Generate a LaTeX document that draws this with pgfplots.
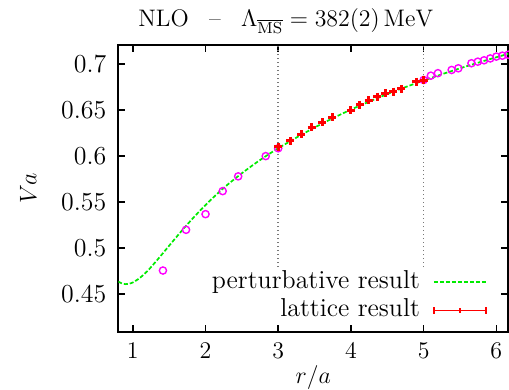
\documentclass[border=0pt]{standalone}
\usepackage{pgfplots}
\pgfplotsset{compat=1.18}
\definecolor{pgreen}{RGB}{0,235,0}
\definecolor{pmag}{RGB}{255,0,255}
\definecolor{pred}{RGB}{255,0,0}
\definecolor{dgray}{RGB}{120,120,120}
\begin{document}
\fontsize{13}{15}\selectfont
\begin{tikzpicture}
\useasboundingbox (-59.15bp,-29.15bp) rectangle (195.35bp,165.85bp);
\begin{axis}[
  at={(0,0)}, anchor=south west,
  scale only axis, width=195bp, height=143.35bp,
  xmin=0.8, xmax=6.1644, ymin=0.4094, ymax=0.7206,
  xtick={1,2,3,4,5,6},
  ytick={0.45,0.5,0.55,0.6,0.65,0.7},
  yticklabels={0.45,0.5,0.55,0.6,0.65,0.7},
  tick pos=both, tick align=inside,
  major tick length=3.5bp,
  axis line style={line width=1bp},
  every tick/.style={line width=0.8bp, black},
  yticklabel style={xshift=-1.5bp},
  xticklabel style={yshift=-1.2bp},
  xlabel={$r/a$}, ylabel={$Va$},
  xlabel style={at={(axis description cs:0.5,-0.1604)}, anchor=center},
  ylabel style={at={(axis description cs:-0.2308,0.5)}, anchor=center},
  title={NLO\hspace{0.85em}--\hspace{0.85em}$\Lambda_{\overline{\mathrm{MS}}}=382(2)\,\mathrm{MeV}$},
  every axis title shift=0pt,
  title style={at={(axis description cs:0.43,1.0628)}, anchor=base, font=\fontsize{12}{14}\selectfont},
  legend plot pos=right, legend cell align=right,
  legend style={at={(rel axis cs:0.946,0.035)}, anchor=south east, draw=none, fill=none,
    inner sep=0pt, row sep=3bp, column sep=6.6bp,
    nodes={inner sep=0pt, text height=8.5bp, text depth=2.5bp}},
]
% dotted vertical lines
\addplot[dgray, line width=0.75bp, dash pattern=on 0.75bp off 1.25bp, forget plot] coordinates {(3,0.4796) (3,0.7206)};
\addplot[dgray, line width=0.75bp, dash pattern=on 0.75bp off 1.25bp, forget plot] coordinates {(5,0.4796) (5,0.7206)};
% perturbative curve
\addplot[pgreen, line width=0.85bp, dash pattern=on 2bp off 1bp, smooth, forget plot] coordinates {
(0.8,0.4637) (0.85,0.4618) (0.9,0.4610) (0.95,0.4614) (1.0,0.4628) (1.1,0.4680)
(1.2,0.4752) (1.3,0.4840) (1.4,0.4933) (1.5,0.5028) (1.6,0.5122) (1.7,0.5214)
(1.8,0.5303) (1.9,0.5388) (2.0,0.5469) (2.1,0.5546) (2.2,0.5619) (2.3,0.5688)
(2.4,0.5752) (2.5,0.5814) (2.6,0.5873) (2.7,0.5930) (2.8,0.5984) (2.9,0.6036)
(3.0,0.6085) (3.25,0.6201) (3.5,0.6310) (3.75,0.6411) (4.0,0.6505) (4.25,0.6591)
(4.5,0.6673) (4.75,0.6749) (5.0,0.6820) (5.25,0.6888) (5.5,0.6953) (5.75,0.7014)
(6.0,0.7073) (6.1644,0.7110)};
% other lattice data (magenta)
\addplot[only marks, mark=o, mark size=1.8bp, pmag, mark options={line width=0.7bp}, forget plot] coordinates {
(1.414,0.4758) (1.732,0.5200) (2.000,0.5370) (2.236,0.5620) (2.449,0.5780)
(2.828,0.6000) (3.000,0.6085) (5.000,0.6826) (5.099,0.6873) (5.196,0.6900)
(5.385,0.6935) (5.477,0.6953) (5.657,0.7008) (5.745,0.7025) (5.831,0.7040)
(5.916,0.7060) (6.000,0.7080) (6.083,0.7090) (6.164,0.7100)};
% lattice result (red)
\addplot[only marks, mark=+, mark size=2bp, pred, mark options={line width=1.5bp}, forget plot] coordinates {
(3.000,0.6100) (3.162,0.6166) (3.317,0.6239) (3.464,0.6315) (3.606,0.6366)
(3.742,0.6424) (4.000,0.6500) (4.123,0.6558) (4.243,0.6605) (4.359,0.6645)
(4.472,0.6680) (4.583,0.6700) (4.690,0.6730) (4.899,0.6808) (5.000,0.6826)};
\addlegendimage{legend image code/.code={\draw[pgreen, line width=0.85bp, dash pattern=on 2bp off 1bp] (0bp,0bp) -- (26bp,0bp);}}
\addlegendentry{perturbative result}
\addlegendimage{legend image code/.code={
  \draw[pred, line width=0.75bp] (0bp,0bp) -- (26bp,0bp);
  \draw[pred, line width=0.75bp] (0bp,-1.75bp) -- (0bp,1.75bp);
  \draw[pred, line width=0.75bp] (26bp,-1.75bp) -- (26bp,1.75bp);
  \draw[pred, line width=0.75bp] (13bp,-1.2bp) -- (13bp,1.2bp);}}
\addlegendentry{lattice result}
\end{axis}
\end{tikzpicture}
\end{document}
